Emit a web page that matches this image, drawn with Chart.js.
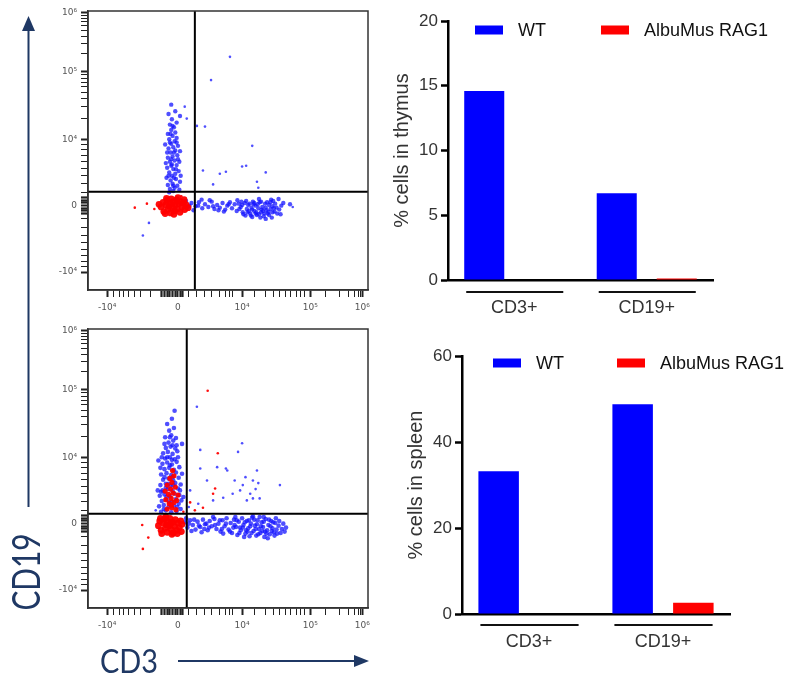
<!DOCTYPE html>
<html><head><meta charset="utf-8">
<script src="https://cdn.jsdelivr.net/npm/chart.js@4"></script>
<style>
html,body{margin:0;padding:0;background:#fff;}
#wrap{position:relative;width:794px;height:677px;overflow:hidden;background:#fff;}
canvas{position:absolute;}
svg{position:absolute;left:0;top:0;}
</style></head><body>
<div id="wrap">
<canvas id="sc1" width="380" height="318" style="left:0;top:0"></canvas>
<canvas id="sc2" width="380" height="330" style="left:0;top:318px"></canvas>
<canvas id="bar1" width="414" height="320" style="left:380px;top:0"></canvas>
<canvas id="bar2" width="414" height="347" style="left:380px;top:330px"></canvas>
<svg width="794" height="677">
<line x1="28.5" y1="30" x2="28.5" y2="507" stroke="#1F3864" stroke-width="2"/>
<polygon points="22,31 35,31 28.5,16" fill="#1F3864"/>
<text transform="translate(40,572) rotate(-90)" text-anchor="middle" font-family="Lato, 'Open Sans', sans-serif" font-size="38" fill="#1F3864" textLength="77" lengthAdjust="spacingAndGlyphs">CD19</text>
<line x1="178" y1="661" x2="356" y2="661" stroke="#1F3864" stroke-width="2"/>
<polygon points="354,655 354,667 369,661" fill="#1F3864"/>
<text x="100" y="673" font-family="Lato, 'Open Sans', sans-serif" font-size="32" fill="#1F3864" textLength="58" lengthAdjust="spacingAndGlyphs">CD3</text>
</svg>
</div>
<script>
// ---------- Bar chart data ----------
const barCategories = ['CD3+', 'CD19+'];
const seriesNames = ['WT', 'AlbuMus RAG1'];
const thymusWT = [14.6, 6.7];
const thymusRAG = [0, 0.12];
const spleenWT = [33.2, 48.8];
const spleenRAG = [0, 2.6];
const thymusTicks = [0, 5, 10, 15, 20];
const spleenTicks = [0, 20, 40, 60];

// ---------- Flow plot axes (biexponential display units) ----------
const flowTickLabels = ['-10⁴', '0', '10⁴', '10⁵', '10⁶'];
const xMajorVals = [-1.05, 0, 0.95, 1.96, 2.73];
const yMajorVals = [-1.0, 0, 1.0, 2.02, 2.9];
const xMinorVals = [-0.95,-0.87,-0.8,-0.73,-0.65,-0.55,-0.41,0.15,0.27,0.39,0.5,0.61,0.7,0.76,0.81,1.14,1.29,1.41,1.51,1.6,1.67,1.75,1.82,1.88,2.19,2.4,2.52,2.61,2.67,2.71];
const xDenseVals = [-0.24,-0.2,-0.16,-0.12,-0.08,-0.04,0.03,0.06];
const yMinorVals = [2.29,2.44,2.55,2.64,2.71,2.77,2.82,2.86,1.31,1.49,1.61,1.71,1.79,1.86,1.92,1.97,0.2,0.33,0.45,0.56,0.66,0.75,0.84,0.92,-0.2,-0.33,-0.45,-0.56,-0.66,-0.75,-0.84,-0.92];
const yDenseVals = [0.12,0.08,0.04,-0.04,-0.08,-0.12];
const thymusGate = [0.25, 0.21];
const spleenGate = [0.13, 0.15];

// ---------- Flow events, thymus (CD3 x, CD19 y) ----------
const thyBlueCD19 = [[-0.12,0.25],[-0.05,0.27],[0.02,0.24],[-0.15,0.31],[-0.08,0.33],[-0.01,0.30],[-0.11,0.38],[-0.03,0.40],[0.03,0.36],[-0.17,0.42],
[-0.09,0.45],[-0.04,0.48],[-0.13,0.50],[0.01,0.52],[-0.07,0.55],[-0.16,0.57],[-0.10,0.60],[-0.02,0.61],[-0.12,0.66],[-0.05,0.68],
[0.02,0.66],[-0.15,0.72],[-0.08,0.74],[-0.01,0.76],[-0.11,0.80],[-0.04,0.83],[-0.14,0.86],[-0.07,0.88],[0.00,0.90],[-0.10,0.93],
[-0.05,0.97],[-0.13,1.00],[-0.02,1.02],[-0.08,1.05],[-0.15,1.08],[-0.04,1.10],[-0.10,1.14],[-0.06,1.18],[-0.12,1.22],[-0.02,1.25],
[-0.09,1.30],[-0.14,1.38],[-0.04,1.42],[-0.10,1.52],[0.03,1.35],[-0.18,0.64],[0.04,0.45],[-0.19,0.92],[0.03,0.82],[-0.06,0.42],
[-0.13,0.20],[-0.07,0.22],[-0.09,0.62],[-0.06,0.80],[-0.12,0.95],[-0.08,1.20],[-0.14,0.45],[-0.03,0.55],[-0.10,0.70],[-0.16,0.80],
[-0.02,0.95],[-0.11,1.08],[-0.07,0.30],[0.00,0.70]];
const thyBlueCD3 = [[0.08,0.02],[0.14,-0.03],[0.20,0.04],[0.26,-0.01],[0.31,0.05],[0.36,-0.04],[0.40,0.02],[0.45,-0.02],[0.50,0.06],[0.54,-0.05],
[0.58,0.01],[0.62,-0.03],[0.66,0.04],[0.70,-0.06],[0.73,0.00],[0.77,0.05],[0.80,-0.04],[0.84,0.02],[0.87,-0.08],[0.90,0.03],
[0.93,-0.02],[0.96,-0.10],[0.99,0.04],[1.02,-0.05],[1.04,0.01],[1.07,-0.12],[1.09,-0.03],[1.11,0.06],[1.13,-0.08],[1.15,0.00],
[1.17,-0.14],[1.19,-0.04],[1.21,0.05],[1.23,-0.10],[1.25,-0.02],[1.27,-0.16],[1.29,0.03],[1.31,-0.07],[1.33,-0.12],[1.35,0.01],
[1.37,-0.05],[1.39,-0.18],[1.41,0.07],[1.43,-0.09],[1.46,-0.03],[1.49,0.10],[1.52,-0.13],[1.56,0.04],[1.66,0.02],[0.23,-0.07],
[0.47,0.08],[0.68,-0.09],[0.88,0.08],[1.00,-0.15],[1.20,0.10],[1.10,-0.17],[1.30,-0.20],[1.38,0.09],[0.12,0.07],[0.35,0.09],
[1.05,-0.08],[1.16,-0.10],[1.24,-0.06],[1.34,-0.09],[1.40,-0.01],[1.22,-0.18],[0.95,0.01],[1.12,0.02],
[0.91,-0.05],[0.94,0.06],[0.97,-0.13],[1.01,0.07],[1.03,-0.10],[1.06,0.03],[1.08,-0.15],[1.10,-0.06],[1.13,0.04],[1.15,-0.12],
[1.18,0.02],[1.20,-0.13],[1.23,0.06],[1.26,-0.08],[1.28,-0.12],[1.30,-0.03],[1.32,0.05],[1.35,-0.14],[1.37,0.05],[1.40,-0.10],
[1.42,-0.04],[1.44,0.03],[1.47,-0.12],[1.50,-0.06],[1.53,0.00],[0.60,-0.07],[0.75,0.02],[0.52,-0.01],[0.30,0.00],[0.17,0.00]];
const thyBlueScatter = [[0.77,2.24],[0.49,1.89],[0.10,1.49],[0.13,1.31],[0.28,1.20],[0.40,1.19],[1.10,0.90],[1.01,0.60],[0.95,0.59],[0.71,0.51],
[0.62,0.48],[0.37,0.53],[1.30,0.50],[1.17,0.36],[1.19,0.27],[0.52,0.32],[-0.52,-0.45],[-0.43,-0.26],[1.70,-0.02]];
const thyRedCore = [[-0.25,-0.02],[-0.22,0.05],[-0.21,-0.09],[-0.18,0.01],[-0.16,0.08],[-0.15,-0.06],[-0.12,0.03],[-0.11,-0.11],[-0.10,0.10],[-0.08,-0.03],
[-0.07,0.06],[-0.05,-0.08],[-0.04,0.01],[-0.02,0.09],[-0.01,-0.05],[0.01,0.03],[0.03,-0.10],[0.04,0.06],[0.06,-0.02],[0.08,0.04],
[0.10,-0.06],[0.12,0.01],[0.15,-0.03],[-0.19,-0.12],[-0.13,-0.01],[-0.06,-0.13],[0.00,0.12],[-0.17,0.11],[0.09,0.09],[-0.28,0.02]];
const thyRedScatter = [[-0.64,-0.03],[-0.46,0.03],[-0.35,-0.05],[0.05,0.14],[0.12,0.06]];

// ---------- Flow events, spleen ----------
const splBlueCD19 = [[-0.25,0.18],[-0.18,0.2],[-0.1,0.17],[-0.02,0.19],[0.04,0.22],[-0.28,0.26],[-0.21,0.28],[-0.14,0.25],[-0.06,0.27],[0.01,0.3],
[-0.24,0.34],[-0.17,0.36],[-0.09,0.33],[-0.03,0.37],[0.05,0.35],[-0.27,0.42],[-0.2,0.44],[-0.12,0.41],[-0.05,0.45],[0.02,0.43],
[-0.23,0.5],[-0.15,0.52],[-0.08,0.49],[0.0,0.53],[-0.26,0.58],[-0.18,0.6],[-0.11,0.57],[-0.04,0.61],[0.04,0.59],[-0.22,0.66],
[-0.14,0.68],[-0.07,0.65],[0.01,0.69],[-0.25,0.74],[-0.17,0.76],[-0.1,0.73],[-0.03,0.77],[-0.2,0.82],[-0.13,0.84],[-0.06,0.81],
[0.02,0.85],[-0.23,0.9],[-0.16,0.92],[-0.09,0.89],[-0.02,0.93],[-0.19,0.98],[-0.12,1.0],[-0.05,0.97],[-0.22,1.06],[-0.15,1.08],
[-0.08,1.05],[-0.01,1.09],[-0.18,1.14],[-0.11,1.16],[-0.04,1.13],[-0.14,1.22],[-0.07,1.25],[-0.19,1.3],[-0.1,1.33],[-0.03,1.29],
[-0.13,1.4],[-0.06,1.44],[-0.16,1.5],[0.06,1.2],[-0.29,0.95],[0.06,0.75],[-0.3,0.5],[-0.09,1.58],[0.08,0.4],[-0.05,1.7],
[-0.2,0.7],[-0.12,0.88],[-0.16,1.0],[-0.08,1.18],[-0.24,1.0],[0.0,1.0],[-0.21,0.22],[-0.13,0.32],[-0.01,0.25],[-0.25,0.48],
[-0.18,0.54],[-0.07,0.58],[-0.26,0.84],[-0.09,0.96],[-0.2,1.2],[-0.02,1.18],[-0.12,1.3],[-0.17,0.4],[0.03,0.5],[-0.08,0.7],[-0.14,0.6]];
const splBlueCD3 = [[0.1,0.02],[0.14,-0.06],[0.18,0.05],[0.22,-0.02],[0.26,-0.09],[0.29,0.03],[0.33,-0.05],[0.37,0.06],[0.4,-0.01],[0.44,-0.1],
[0.47,0.04],[0.5,-0.04],[0.54,0.07],[0.57,-0.08],[0.6,0.0],[0.63,-0.12],[0.66,0.05],[0.69,-0.04],[0.72,0.08],[0.75,-0.09],
[0.78,0.01],[0.8,-0.14],[0.83,0.06],[0.86,-0.05],[0.88,-0.17],[0.9,0.03],[0.93,-0.1],[0.95,0.08],[0.97,-0.02],[1.0,-0.15],
[1.02,0.04],[1.04,-0.07],[1.06,-0.19],[1.08,0.0],[1.1,0.09],[1.12,-0.11],[1.14,-0.03],[1.16,-0.18],[1.18,0.05],[1.2,-0.08],
[1.22,-0.14],[1.24,0.02],[1.26,-0.05],[1.28,-0.2],[1.3,0.07],[1.32,-0.1],[1.34,-0.02],[1.36,-0.16],[1.38,0.04],[1.4,-0.07],
[1.42,-0.13],[1.44,0.01],[1.46,-0.09],[1.49,-0.03],[1.52,-0.14],[1.56,0.0],[1.6,-0.06],[0.2,-0.11],[0.35,-0.13],[0.52,0.1],
[0.67,-0.15],[0.85,0.1],[0.98,-0.2],[1.11,0.11],[1.27,0.1],[1.33,-0.22],[1.45,0.08],[0.12,0.08],[0.92,-0.06],[1.05,0.05],
[1.17,-0.01],[1.25,-0.11],[1.37,-0.04],[1.21,0.1],[1.03,-0.12],[0.82,-0.06],[0.62,0.05],[0.42,0.0],[1.31,-0.15],[1.43,-0.18],
[0.16,0.0],[0.24,0.06],[0.31,-0.03],[0.39,-0.08],[0.46,-0.06],[0.55,-0.02],[0.65,-0.08],[0.71,0.0],[0.77,-0.12],[0.84,-0.02],
[0.87,0.05],[0.91,-0.14],[0.96,-0.06],[0.99,0.02],[1.01,-0.1],[1.07,-0.04],[1.09,-0.14],[1.13,0.06],[1.15,-0.08],[1.19,-0.16],
[1.23,-0.04],[1.27,0.03],[1.29,-0.12],[1.35,0.06],[1.39,-0.11],[1.41,0.02],[1.47,-0.15],[1.5,0.04],[1.54,-0.08],[1.58,-0.12]];
const splBlueScatter = [[0.28,1.76],[0.33,1.11],[0.95,1.21],[0.89,1.08],[0.71,0.83],[0.58,0.85],[0.73,0.8],[0.84,0.65],[0.96,0.58],[1.11,0.65],
[1.17,0.8],[1.19,0.61],[1.21,0.38],[1.51,0.58],[1.02,0.35],[0.92,0.5],[1.07,0.45],[0.33,0.83],[0.52,0.35],[0.67,0.39],
[0.18,0.5],[1.11,0.38],[0.81,0.45],[0.43,0.65],[0.16,0.25],[0.3,0.3],[1.0,0.7],[1.15,0.52],[-0.33,0.2]];
const splRedCD19 = [[-0.16,0.22],[-0.09,0.24],[-0.03,0.21],[-0.13,0.3],[-0.06,0.32],[-0.18,0.36],[-0.1,0.38],[-0.02,0.35],[-0.14,0.44],[-0.07,0.46],
[-0.11,0.52],[-0.04,0.55],[-0.16,0.58],[-0.09,0.62],[-0.12,0.68],[-0.06,0.72],[-0.19,0.49],[0.0,0.43],[-0.1,0.28],[-0.08,0.8]];
const splRedCore = [[-0.29,-0.03],[-0.27,0.04],[-0.25,-0.1],[-0.22,0.01],[-0.2,0.07],[-0.19,-0.07],[-0.16,-0.13],[-0.15,0.03],[-0.13,-0.03],[-0.12,0.08],
[-0.1,-0.09],[-0.08,0.02],[-0.07,-0.14],[-0.05,-0.04],[-0.04,0.06],[-0.02,-0.1],[0.0,0.01],[0.02,-0.06],[0.04,0.04],[0.05,-0.12],
[-0.24,-0.15],[-0.17,-0.02],[-0.11,0.0],[-0.01,-0.15],[-0.26,0.08],[0.06,-0.01],[-0.09,-0.16],[-0.18,0.1]];
const splRedScatter = [[0.44,2.0],[0.55,0.53],[0.59,1.06],[0.37,0.24],[0.25,0.2],[0.18,0.32],[0.52,0.45],[-0.53,-0.02],[-0.44,-0.21],[-0.52,-0.38],[0.08,0.18]];

// ---------- helpers ----------
const pts = a => a.map(p => ({x: p[0], y: p[1]}));
const BLUE = 'rgba(20,20,255,0.75)';
const RED = 'rgba(255,0,0,0.95)';
function ds(arr, color, r) {
  return {data: pts(arr), backgroundColor: color, pointRadius: r, pointBorderWidth: 0, pointHoverRadius: r};
}
function buildTicks(majors, minors, dense) {
  const t = [];
  majors.forEach((v, i) => t.push({value: v, kind: 'major', lbl: flowTickLabels[i]}));
  minors.forEach(v => t.push({value: v, kind: 'minor', lbl: ''}));
  dense.forEach(v => t.push({value: v, kind: 'dense', lbl: ''}));
  t.sort((a, b) => a.value - b.value);
  return t;
}
const flowFrame = {
  id: 'flowFrame',
  afterDatasetsDraw(chart, args, o) {
    const {ctx, chartArea: ca, scales} = chart;
    ctx.save();
    ctx.strokeStyle = '#000'; ctx.lineWidth = 2;
    const gx = scales.x.getPixelForValue(o.gate[0]);
    const gy = scales.y.getPixelForValue(o.gate[1]);
    ctx.beginPath(); ctx.moveTo(gx, ca.top); ctx.lineTo(gx, ca.bottom);
    ctx.moveTo(ca.left, gy); ctx.lineTo(ca.right, gy); ctx.stroke();
    ctx.strokeStyle = '#333'; ctx.lineWidth = 1.5;
    ctx.strokeRect(ca.left, ca.top, ca.right - ca.left, ca.bottom - ca.top);
    ctx.restore();
  }
};
const tickW = c => c.tick ? (c.tick.kind === 'major' ? 2 : (c.tick.kind === 'dense' ? 2.2 : 1)) : 1;
function makeFlow(id, datasets, gate, xh) {
  return new Chart(document.getElementById(id), {
    type: 'scatter',
    data: {datasets},
    options: {
      responsive: false, animation: false, devicePixelRatio: 1,
      layout: {padding: {left: 0, top: 11, right: 12, bottom: 0}},
      plugins: {legend: {display: false}, tooltip: {enabled: false}, flowFrame: {gate}},
      scales: {
        x: {
          type: 'linear', min: -1.333, max: 2.815,
          afterBuildTicks: s => { s.ticks = buildTicks(xMajorVals, xMinorVals, xDenseVals); },
          afterFit: s => { s.height = xh; },
          ticks: {autoSkip: false, maxRotation: 0, padding: 5, color: '#555',
            font: {family: 'DejaVu Sans', size: 9},
            callback: (v, i, t) => t[i].lbl},
          grid: {drawOnChartArea: false, tickLength: 7, tickColor: '#222', tickWidth: tickW},
          border: {color: '#333', width: 1.5}
        },
        y: {
          type: 'linear', min: -1.27, max: 2.93,
          afterBuildTicks: s => { s.ticks = buildTicks(yMajorVals, yMinorVals, yDenseVals); },
          afterFit: s => { s.width = 88; },
          ticks: {autoSkip: false, padding: 4, color: '#555',
            font: {family: 'DejaVu Sans', size: 9},
            callback: (v, i, t) => t[i].lbl},
          grid: {drawOnChartArea: false, tickLength: 7, tickColor: '#222', tickWidth: tickW},
          border: {color: '#333', width: 1.5}
        }
      }
    },
    plugins: [flowFrame]
  });
}
makeFlow('sc1', [
  ds(thyRedCore, RED, 3.4), ds(thyRedScatter, RED, 1.3),
  ds(thyBlueCD19, BLUE, 2.2), ds(thyBlueCD3, BLUE, 2.2), ds(thyBlueScatter, BLUE, 1.3)
], thymusGate, 28);
makeFlow('sc2', [
  ds(splRedCD19, RED, 2.6), ds(splRedCore, RED, 3.4), ds(splRedScatter, RED, 1.3),
  ds(splBlueCD19, BLUE, 2.3), ds(splBlueCD3, BLUE, 2.3), ds(splBlueScatter, BLUE, 1.3)
], spleenGate, 40);

// ---------- bar charts ----------
const barDecor = {
  id: 'barDecor',
  afterDraw(chart, args, o) {
    const {ctx, chartArea: ca} = chart;
    const m0 = chart.getDatasetMeta(0).data, m1 = chart.getDatasetMeta(1).data;
    ctx.save();
    ctx.strokeStyle = '#111'; ctx.lineWidth = 2;
    for (let i = 0; i < m0.length; i++) {
      const l = m0[i].x - m0[i].width / 2 + 2, r = m1[i].x + m1[i].width / 2 - 1;
      ctx.beginPath(); ctx.moveTo(l, ca.bottom + o.lineGap); ctx.lineTo(r, ca.bottom + o.lineGap); ctx.stroke();
    }
    chart.data.datasets.forEach((d, i) => {
      const bx = ca.left + o.boxX[i], cy = ca.top + o.cy;
      ctx.fillStyle = d.backgroundColor;
      ctx.fillRect(bx, cy - 4.5, 28, 9);
      ctx.fillStyle = '#111';
      ctx.font = '18px "Liberation Sans", Arial, sans-serif';
      ctx.textBaseline = 'middle'; ctx.textAlign = 'left';
      ctx.fillText(d.label, bx + 28 + 15, cy + 1);
    });
    ctx.restore();
  }
};
function makeBar(id, wt, rag, ticks, title, pad, xh, deco) {
  const tickFont = {family: '"Liberation Sans", Arial, sans-serif', size: 17};
  return new Chart(document.getElementById(id), {
    type: 'bar',
    data: {labels: barCategories, datasets: [
      {label: seriesNames[0], data: wt, backgroundColor: '#0000FF', categoryPercentage: 0.906, barPercentage: 0.667},
      {label: seriesNames[1], data: rag, backgroundColor: '#FF0000', categoryPercentage: 0.906, barPercentage: 0.667}
    ]},
    options: {
      responsive: false, animation: false, devicePixelRatio: 1,
      layout: {padding: pad},
      plugins: {legend: {display: false}, tooltip: {enabled: false}, barDecor: deco},
      scales: {
        x: {
          grid: {display: false, drawTicks: false},
          border: {color: '#000', width: 2.5},
          ticks: {padding: 17, color: '#333', font: {family: '"Liberation Sans", Arial, sans-serif', size: 18}},
          afterFit: s => { s.height = xh; }
        },
        y: {
          min: ticks[0], max: ticks[ticks.length - 1],
          afterBuildTicks: s => { s.ticks = ticks.map(v => ({value: v})); },
          afterFit: s => { s.width = 68; },
          ticks: {padding: 3, color: '#333', font: tickFont},
          grid: {drawOnChartArea: false, tickLength: 7, tickWidth: 2.5, tickColor: '#000'},
          border: {color: '#000', width: 2.5},
          title: {display: true, text: title, color: '#333',
            font: {family: '"Liberation Sans", Arial, sans-serif', size: 20}, padding: {top: 10, bottom: 0}}
        }
      }
    },
    plugins: [barDecor]
  });
}
makeBar('bar1', thymusWT, thymusRAG, thymusTicks, '% cells in thymus',
  {left: 0, top: 21, right: 81, bottom: 0}, 40, {boxX: [27, 153], cy: 9, lineGap: 12});
makeBar('bar2', spleenWT, spleenRAG, spleenTicks, '% cells in spleen',
  {left: 14, top: 26, right: 64, bottom: 0}, 63, {boxX: [31, 155], cy: 7, lineGap: 11});
</script>
</body></html>
